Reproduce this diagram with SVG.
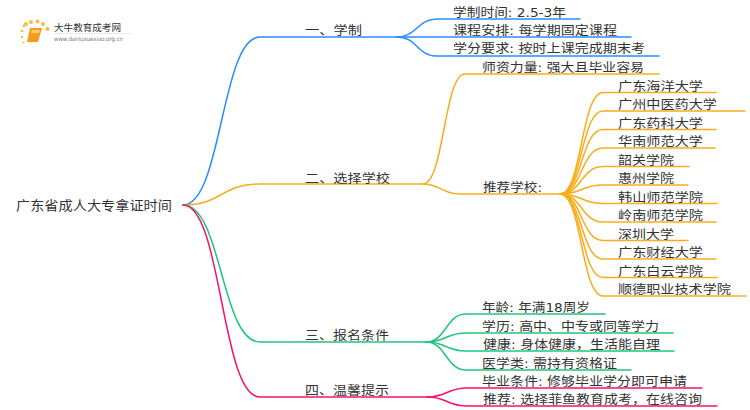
<svg xmlns="http://www.w3.org/2000/svg" width="750" height="410" viewBox="0 0 750 410">
<style>
text{font-family:"DejaVu Sans","Noto Sans CJK SC",sans-serif;font-size:12.500px;fill:#333;lengthAdjust:spacingAndGlyphs}
path{fill:none;stroke-width:1.5;stroke-linecap:round}
.b path{stroke:#2b8cff}.o path{stroke:#f9ad1c}.g path{stroke:#1fc67c}.p path{stroke:#f5136f}
#logo .d{fill:#f9bd3a}
</style>
<rect width="750" height="410" fill="#fff"/>
<g id="logo">
<circle class="d" cx="24" cy="26" r="1.5"/><circle class="d" cx="26" cy="24" r="2"/><circle class="d" cx="31" cy="22" r="2"/><circle class="d" cx="37.500" cy="21.500" r="2"/><circle class="d" cx="43" cy="24" r="2"/><circle class="d" cx="47.500" cy="29" r="2"/><circle class="d" cx="22" cy="31" r="1.300"/><circle class="d" cx="22" cy="37" r="1.200"/><circle class="d" cx="23.500" cy="42.500" r="1"/>
<polygon points="30,28 42,28 38,42 27,42" fill="#f59a1b"/><polygon points="32,30 40,30 39,33 31,33" fill="#fbd06a"/>
<text x="54" y="31" textLength="67" lengthAdjust="spacingAndGlyphs" style="font-size:9.500px">大牛教育成考网</text>
<text x="54" y="41" textLength="69" lengthAdjust="spacingAndGlyphs" style="font-size:6px;fill:#777">www.daniuxuexiao.org.cn</text>
<rect x="54" y="33" width="78" height="0.600" fill="#ddd"/>
</g>
<g id="connectors">
<g class="b"><path d="M183 205C222 205 221 37 260 37L397 37"/><path d="M397 37C417 37 417 19 437 19L580 19"/><path d="M397 37L631 37"/><path d="M397 37C417 37 417 56 437 56L659 56"/></g>
<g class="o"><path d="M183 205C222 205 221 184 260 184L423 184"/><path d="M423 184C444 184 444 74 465 74L659 74"/><path d="M423 184C441 184 441 194 460 194L560 194"/>
<path d="M560 194C582 194 581 92.500 603 92.500L716 92.500"/><path d="M560 194C582 194 581 111 603 111L745 111"/><path d="M560 194C582 194 581 129.500 603 129.500L716 129.500"/><path d="M560 194C582 194 581 148 603 148L715 148"/><path d="M560 194C582 194 581 166.500 603 166.500L689 166.500"/><path d="M560 194C582 194 581 185 603 185L688 185"/><path d="M560 194C582 194 581 203.500 603 203.500L717 203.500"/><path d="M560 194C582 194 581 222 603 222L716 222"/><path d="M560 194C582 194 581 240.500 603 240.500L688 240.500"/><path d="M560 194C582 194 581 259 603 259L716 259"/><path d="M560 194C582 194 581 277.500 603 277.500L717 277.500"/><path d="M560 194C582 194 581 296 603 296L746 296"/></g>
<g class="g"><path d="M183 205C222 205 221 342 260 342L426 342"/><path d="M426 342C446 342 446 314 466 314L605 314"/><path d="M426 342C446 342 446 333 466 333L673 333"/><path d="M426 342C446 342 446 351 466 351L674 351"/><path d="M426 342C446 342 446 370 466 370L631 370"/></g>
<g class="p"><path d="M183 205C222 205 221 397 260 397L427 397"/><path d="M427 397C447 397 447 388 467 388L702 388"/><path d="M427 397C447 397 447 406 467 406L717 406"/></g>
</g>
<g id="root"><text x="16" y="210" textLength="156" lengthAdjust="spacingAndGlyphs" style="font-size:13px">广东省成人大专拿证时间</text></g>
<g id="n1"><text x="305" y="35" textLength="57" lengthAdjust="spacingAndGlyphs">一、学制</text></g>
<g id="n1a"><text x="453" y="17" textLength="113" lengthAdjust="spacingAndGlyphs">学制时间: 2.5-3年</text></g>
<g id="n1b"><text x="453" y="35" textLength="164" lengthAdjust="spacingAndGlyphs">课程安排: 每学期固定课程</text></g>
<g id="n1c"><text x="453" y="53" textLength="192" lengthAdjust="spacingAndGlyphs">学分要求: 按时上课完成期末考</text></g>
<g id="n2"><text x="305" y="183" textLength="85" lengthAdjust="spacingAndGlyphs">二、选择学校</text></g>
<g id="n2a"><text x="482" y="72" textLength="162" lengthAdjust="spacingAndGlyphs">师资力量: 强大且毕业容易</text></g>
<g id="n2b"><text x="483" y="192" textLength="59" lengthAdjust="spacingAndGlyphs">推荐学校:</text></g>
<g id="s1"><text x="618" y="90.500" textLength="85" lengthAdjust="spacingAndGlyphs">广东海洋大学</text></g>
<g id="s2"><text x="618" y="109" textLength="99" lengthAdjust="spacingAndGlyphs">广州中医药大学</text></g>
<g id="s3"><text x="618" y="127.500" textLength="85" lengthAdjust="spacingAndGlyphs">广东药科大学</text></g>
<g id="s4"><text x="618" y="146" textLength="85" lengthAdjust="spacingAndGlyphs">华南师范大学</text></g>
<g id="s5"><text x="618" y="164.500" textLength="56" lengthAdjust="spacingAndGlyphs">韶关学院</text></g>
<g id="s6"><text x="618" y="183" textLength="56" lengthAdjust="spacingAndGlyphs">惠州学院</text></g>
<g id="s7"><text x="618" y="201.500" textLength="85" lengthAdjust="spacingAndGlyphs">韩山师范学院</text></g>
<g id="s8"><text x="618" y="220" textLength="85" lengthAdjust="spacingAndGlyphs">岭南师范学院</text></g>
<g id="s9"><text x="618" y="238.500" textLength="56" lengthAdjust="spacingAndGlyphs">深圳大学</text></g>
<g id="s10"><text x="618" y="257" textLength="85" lengthAdjust="spacingAndGlyphs">广东财经大学</text></g>
<g id="s11"><text x="618" y="275.500" textLength="85" lengthAdjust="spacingAndGlyphs">广东白云学院</text></g>
<g id="s12"><text x="618" y="294" textLength="113" lengthAdjust="spacingAndGlyphs">顺德职业技术学院</text></g>
<g id="n3"><text x="305" y="340" textLength="84" lengthAdjust="spacingAndGlyphs">三、报名条件</text></g>
<g id="n3a"><text x="482" y="312" textLength="108" lengthAdjust="spacingAndGlyphs">年龄: 年满18周岁</text></g>
<g id="n3b"><text x="482" y="331" textLength="177" lengthAdjust="spacingAndGlyphs">学历: 高中、中专或同等学力</text></g>
<g id="n3c"><text x="483" y="349" textLength="177" lengthAdjust="spacingAndGlyphs">健康: 身体健康，生活能自理</text></g>
<g id="n3d"><text x="482" y="368" textLength="135" lengthAdjust="spacingAndGlyphs">医学类: 需持有资格证</text></g>
<g id="n4"><text x="305" y="395" textLength="84" lengthAdjust="spacingAndGlyphs">四、温馨提示</text></g>
<g id="n4a"><text x="482" y="386" textLength="205" lengthAdjust="spacingAndGlyphs">毕业条件: 修够毕业学分即可申请</text></g>
<g id="n4b"><text x="483" y="404" textLength="219" lengthAdjust="spacingAndGlyphs">推荐: 选择菲鱼教育成考，在线咨询</text></g>
</svg>
